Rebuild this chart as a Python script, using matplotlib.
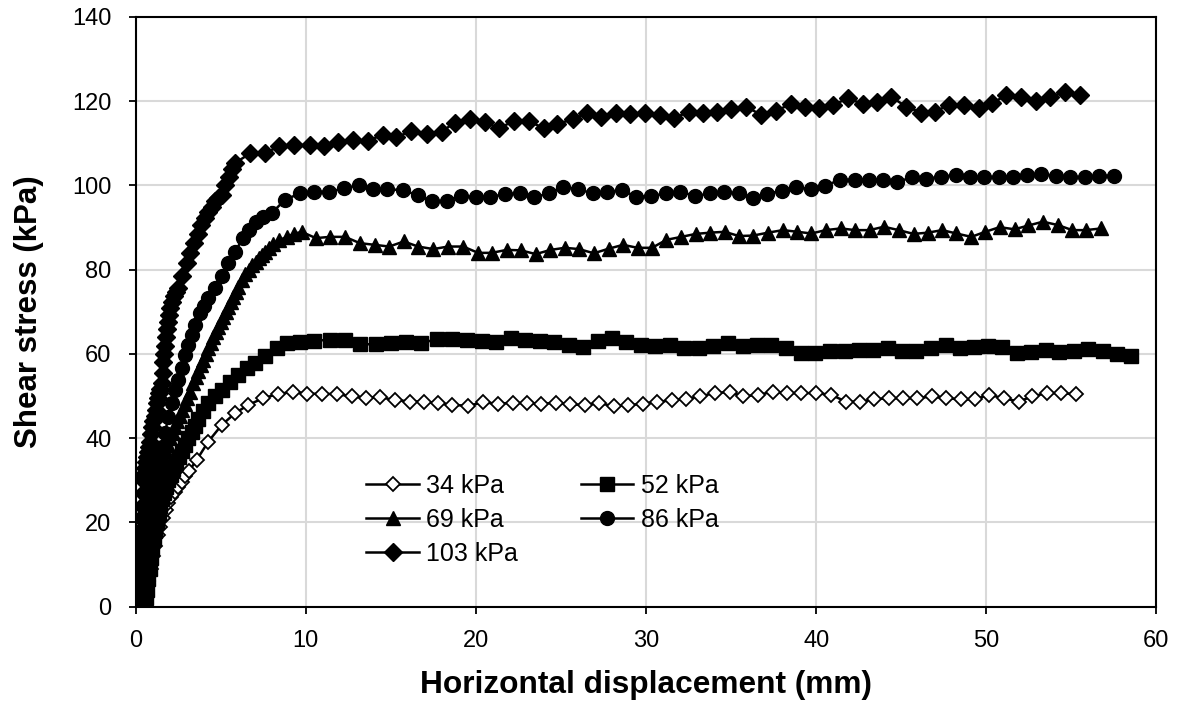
import matplotlib
matplotlib.use("Agg")
import matplotlib.pyplot as plt

plt.rcParams["font.family"] = ["Liberation Sans", "DejaVu Sans"]

# 34 kPa
x34 = [0.50, 0.62, 0.75, 0.88, 1.02, 1.16, 1.30, 1.45, 1.60, 1.76, 1.92, 2.10, 2.30, 2.50, 2.70, 2.92,
       3.15, 3.58, 4.27, 5.05, 5.83, 6.62, 7.50, 8.38, 9.26, 10.08, 10.94, 11.81, 12.69, 13.53, 14.34,
       15.23, 16.12, 16.95, 17.78, 18.62, 19.54, 20.42, 21.30, 22.15, 23.00, 23.85, 24.70, 25.55, 26.40,
       27.25, 28.10, 28.95, 29.80, 30.65, 31.50, 32.35, 33.15, 34.04, 34.92, 35.70, 36.58, 37.46, 38.28,
       39.13, 39.97, 40.89, 41.73, 42.60, 43.38, 44.28, 45.10, 45.92, 46.80, 47.65, 48.49, 49.31, 50.15,
       51.02, 51.90, 52.70, 53.56, 54.41, 55.25]
y34 = [0, 3, 6, 9, 12, 14.5, 17, 19, 21, 23, 24.5, 26, 27.3, 28.5, 29.7, 31,
       32.3, 34.8, 39.2, 43.1, 45.9, 47.9, 49.5, 50.5, 51.0, 50.6, 50.5, 50.5, 49.9, 49.6, 49.7,
       49.1, 48.7, 48.7, 48.3, 47.9, 47.7, 48.5, 48.2, 48.4, 48.3, 48.2, 48.4, 48.0, 47.9,
       48.3, 47.6, 47.8, 48.2, 48.6, 49.0, 49.3, 49.9, 50.7, 51.0, 49.9, 50.3, 51.0, 50.7,
       50.7, 50.7, 50.3, 48.7, 48.6, 49.2, 49.5, 49.5, 49.5, 49.9, 49.5, 49.2, 49.2, 50.3,
       49.5, 48.7, 49.9, 50.7, 50.7, 50.4]

# 52 kPa
x52 = [0.50, 0.58, 0.66, 0.74, 0.82, 0.90, 0.98, 1.07, 1.16, 1.25, 1.35, 1.45, 1.56, 1.67, 1.79, 1.92,
       2.05, 2.20, 2.36, 2.53, 2.71, 2.90, 3.10, 3.30, 3.50, 3.68, 3.98, 4.27, 4.66, 5.05, 5.54, 6.03,
       6.52, 7.01, 7.60, 8.28, 8.87, 9.65, 10.50, 11.40, 12.30, 13.20, 14.10, 15.00, 15.90, 16.80,
       17.70, 18.60, 19.50, 20.35, 21.20, 22.05, 22.90, 23.75, 24.60, 25.45, 26.30, 27.15, 28.00,
       28.85, 29.70, 30.55, 31.40, 32.25, 33.10, 33.95, 34.82, 35.70, 36.52, 37.37, 38.25, 39.13,
       39.91, 40.79, 41.67, 42.52, 43.34, 44.22, 45.06, 45.89, 46.73, 47.61, 48.43, 49.27, 50.09,
       50.94, 51.80, 52.64, 53.52, 54.30, 55.13, 55.97, 56.85, 57.67, 58.52]
y52 = [0, 2, 4, 6.5, 9, 11.5, 14, 16, 18, 20, 22, 24, 25.5, 27, 28.5, 30,
       31.3, 32.6, 34, 35.5, 37, 38.5, 40, 41.5, 43, 44.5, 46.5, 48.3, 49.9, 51.4, 53.4, 55.0,
       56.6, 57.8, 59.4, 61.3, 62.5, 62.9, 63.1, 63.4, 63.3, 62.3, 62.3, 62.6, 62.8, 62.6,
       63.5, 63.6, 63.3, 63.0, 62.9, 63.8, 63.2, 63.0, 62.8, 62.2, 61.6, 63.0, 63.7,
       62.8, 62.2, 62.0, 62.1, 61.5, 61.3, 62.0, 62.5, 61.9, 62.1, 62.1, 61.3, 60.3,
       60.2, 60.6, 60.7, 60.9, 60.9, 61.3, 60.8, 60.8, 61.5, 62.1, 61.5, 61.6, 62.0,
       61.6, 60.3, 60.5, 60.9, 60.5, 60.8, 61.1, 60.8, 60.0, 59.4]

# 69 kPa
x69 = [0.35, 0.42, 0.49, 0.56, 0.63, 0.70, 0.77, 0.85, 0.93, 1.01, 1.10, 1.19, 1.28, 1.38, 1.48, 1.58,
       1.69, 1.80, 1.92, 2.04, 2.17, 2.30, 2.44, 2.58, 2.73, 2.88, 3.03, 3.19, 3.38, 3.53, 3.68, 3.83,
       3.97, 4.12, 4.27, 4.42, 4.56, 4.71, 4.85, 5.00, 5.15, 5.30, 5.44, 5.58, 5.73, 5.88, 6.03, 6.24,
       6.45, 6.66, 6.86, 7.06, 7.25, 7.43, 7.60, 7.82, 8.05, 8.45, 8.87, 9.30, 9.75, 10.59, 11.42,
       12.30, 13.18, 14.06, 14.90, 15.76, 16.60, 17.49, 18.37, 19.25, 20.13, 20.92, 21.80, 22.64,
       23.52, 24.38, 25.22, 26.06, 26.93, 27.81, 28.65, 29.50, 30.35, 31.20, 32.08, 32.92, 33.78,
       34.62, 35.46, 36.29, 37.17, 38.05, 38.90, 39.72, 40.56, 41.44, 42.30, 43.14, 43.98, 44.85,
       45.73, 46.57, 47.41, 48.24, 49.12, 49.94, 50.78, 51.66, 52.48, 53.33, 54.21, 55.05, 55.84, 56.76]
y69 = [0, 3, 6, 9, 12, 15, 17.5, 20, 22, 24, 26, 28, 29.5, 31, 32.5, 34,
       35.5, 37, 38.5, 40, 41.3, 42.6, 44, 45.3, 46.6, 48, 49.5, 51, 53, 54.6, 56, 57.3,
       58.6, 60, 61.3, 62.6, 64, 65.2, 66.4, 67.6, 68.8, 70, 71.2, 72.4, 73.6, 74.8, 76, 77.5,
       79, 80, 81, 81.8, 82.7, 83.5, 84.3, 85.2, 86, 87, 87.8, 88.5, 89.0, 87.5, 87.8,
       87.8, 86.3, 85.9, 85.5, 86.7, 85.5, 84.9, 85.5, 85.5, 84.0, 84.0, 84.7, 84.6,
       83.7, 84.7, 85.2, 84.9, 83.9, 85.0, 85.9, 85.2, 85.2, 87.1, 87.8, 88.5, 88.8,
       89.0, 88.0, 88.1, 88.8, 89.4, 89.0, 88.6, 89.4, 89.8, 89.4, 89.4, 90.2, 89.4,
       88.5, 88.8, 89.4, 88.6, 87.8, 89.0, 90.1, 89.6, 90.5, 91.4, 90.6, 89.4, 89.4, 89.8]

# 86 kPa
x86 = [0.30, 0.36, 0.42, 0.48, 0.54, 0.60, 0.66, 0.72, 0.79, 0.86, 0.93, 1.00, 1.08, 1.16, 1.25, 1.34,
       1.43, 1.53, 1.72, 1.92, 2.12, 2.31, 2.50, 2.70, 2.90, 3.09, 3.29, 3.48, 3.78, 4.02, 4.27, 4.66,
       5.05, 5.44, 5.83, 6.32, 6.67, 7.07, 7.50, 7.99, 8.77, 9.65, 10.50, 11.36, 12.24, 13.12, 13.96,
       14.80, 15.69, 16.57, 17.43, 18.27, 19.15, 20.03, 20.82, 21.70, 22.58, 23.42, 24.28, 25.12,
       26.00, 26.89, 27.73, 28.59, 29.43, 30.32, 31.16, 32.02, 32.90, 33.74, 34.58, 35.45, 36.29,
       37.13, 37.99, 38.84, 39.68, 40.50, 41.38, 42.26, 43.10, 43.92, 44.77, 45.65, 46.47, 47.36,
       48.20, 49.06, 49.86, 50.72, 51.57, 52.41, 53.23, 54.11, 54.95, 55.78, 56.62, 57.48]
y86 = [0, 3, 6, 9, 12, 15, 18, 20.5, 23, 25.5, 28, 30, 32, 33.5, 35, 36.2,
       37.2, 38.0, 41.2, 45.1, 48.3, 51.4, 53.8, 56.6, 59.8, 62.1, 64.5, 66.9, 69.7, 71.5, 73.4, 75.6,
       78.4, 81.5, 84.3, 87.5, 89.4, 91.4, 92.6, 93.4, 96.6, 98.1, 98.5, 98.5, 99.3, 100.1, 99.1,
       99.1, 98.9, 97.7, 96.2, 96.4, 97.5, 97.2, 97.2, 98.0, 98.1, 97.2, 98.1, 99.7,
       99.1, 98.1, 98.5, 98.9, 97.3, 97.5, 98.1, 98.5, 97.5, 98.1, 98.5, 98.1, 97.0,
       98.0, 98.8, 99.6, 99.1, 99.9, 101.3, 101.4, 101.4, 101.3, 100.9, 101.9, 101.6, 102.1,
       102.5, 102.1, 101.9, 102.1, 102.1, 102.5, 102.7, 102.3, 102.1, 101.9, 102.3, 102.3]

# 103 kPa
x103 = [0.00, 0.05, 0.10, 0.14, 0.18, 0.22, 0.26, 0.30, 0.35, 0.40, 0.45, 0.50, 0.55, 0.60, 0.65, 0.72,
        0.78, 0.84, 0.89, 0.94, 1.03, 1.13, 1.18, 1.23, 1.30, 1.38, 1.45, 1.53, 1.58, 1.62, 1.67, 1.72,
        1.78, 1.84, 1.90, 1.96, 2.02, 2.12, 2.25, 2.38, 2.50, 2.75, 3.00, 3.22, 3.44, 3.64, 3.84, 4.05,
        4.27, 4.46, 4.66, 4.85, 5.05, 5.27, 5.48, 5.65, 5.83, 6.72, 7.60, 8.44, 9.28, 10.24, 11.06,
        11.90, 12.75, 13.63, 14.51, 15.33, 16.20, 17.10, 17.98, 18.76, 19.64, 20.52, 21.36, 22.23,
        23.13, 23.99, 24.79, 25.68, 26.53, 27.38, 28.22, 29.08, 29.96, 30.80, 31.65, 32.53, 33.35,
        34.20, 35.02, 35.90, 36.78, 37.62, 38.50, 39.32, 40.16, 41.00, 41.87, 42.75, 43.57, 44.38,
        45.30, 46.18, 46.96, 47.80, 48.68, 49.55, 50.35, 51.18, 52.06, 52.90, 53.72, 54.64, 55.48]
y103 = [0, 3, 6, 9, 12, 15, 18, 21, 24, 27, 30, 31.5, 33, 34.3, 35.6, 36.8,
        38, 39, 41, 42.7, 44, 45.3, 46.8, 48.4, 49.5, 50.7, 51.7, 53, 55.5, 58, 60, 62,
        64, 66, 67.7, 69.3, 70.8, 72.3, 73.8, 74.8, 75.6, 78.6, 81.5, 84, 86.3, 88.5, 90.6, 92.3,
        93.8, 95, 96.2, 97, 97.7, 100, 102.1, 103.8, 105.3, 107.6, 107.6, 109.4, 109.6, 109.6, 109.4,
        110.4, 110.8, 110.6, 112.0, 111.4, 113.0, 112.2, 112.8, 114.9, 115.7, 115.0, 113.6, 115.3,
        115.2, 113.6, 114.6, 115.7, 117.1, 116.2, 117.3, 117.0, 117.3, 116.7, 116.0, 117.5, 117.1,
        117.4, 118.1, 118.7, 116.7, 117.7, 119.3, 118.6, 118.3, 119.1, 120.7, 119.3, 119.9, 121.1,
        118.7, 117.3, 117.5, 119.1, 119.1, 118.3, 119.5, 121.5, 120.9, 120.1, 120.9, 122.3, 121.5]

fig = plt.figure(figsize=(11.8, 7.02), dpi=100)
ax = fig.add_axes([0.115, 0.1358, 0.865, 0.8400])

lw = 1.8
l34, = ax.plot(x34, y34, color="black", lw=lw, marker="D", ms=7.5, mfc="white", mec="black", mew=1.3, label="34 kPa")
l52, = ax.plot(x52, y52, color="black", lw=lw, marker="s", ms=10, mfc="black", mec="black", label="52 kPa")
l69, = ax.plot(x69, y69, color="black", lw=lw, marker="^", ms=10.5, mfc="black", mec="black", label="69 kPa")
l86, = ax.plot(x86, y86, color="black", lw=lw, marker="o", ms=10, mfc="black", mec="black", label="86 kPa")
l103, = ax.plot(x103, y103, color="black", lw=lw, marker="D", ms=9, mfc="black", mec="black", label="103 kPa")

ax.set_xlim(0, 60)
ax.set_ylim(0, 140)
ax.set_xticks(range(0, 61, 10))
ax.set_yticks(range(0, 141, 20))
ax.grid(True, color="#d9d9d9", lw=1.5)
ax.set_axisbelow(True)
for s in ax.spines.values():
    s.set_linewidth(1.5)
    s.set_color("black")
ax.tick_params(direction="out", length=5, width=1.3, labelsize=17)
ax.tick_params(axis="x", pad=11.5)
ax.tick_params(axis="y", pad=12.5)

ax.set_xlabel("Horizontal displacement (mm)", fontsize=22.8, fontweight="bold", labelpad=13)
ax.set_ylabel("Shear stress (kPa)", fontsize=22.5, fontweight="bold", labelpad=20)

# row-wise ordering like the original: 34, 52 / 69, 86 / 103
handles = [l34, l69, l103, l52, l86]
ax.legend(handles=handles, labels=[h.get_label() for h in handles], ncol=2, frameon=False,
          loc="upper left", bbox_to_anchor=(0.226, 0.225), borderpad=0, borderaxespad=0,
          fontsize=18, handlelength=2.1, handletextpad=0.3, columnspacing=2.5, labelspacing=0.4)

fig.savefig("out.png", dpi=100)
